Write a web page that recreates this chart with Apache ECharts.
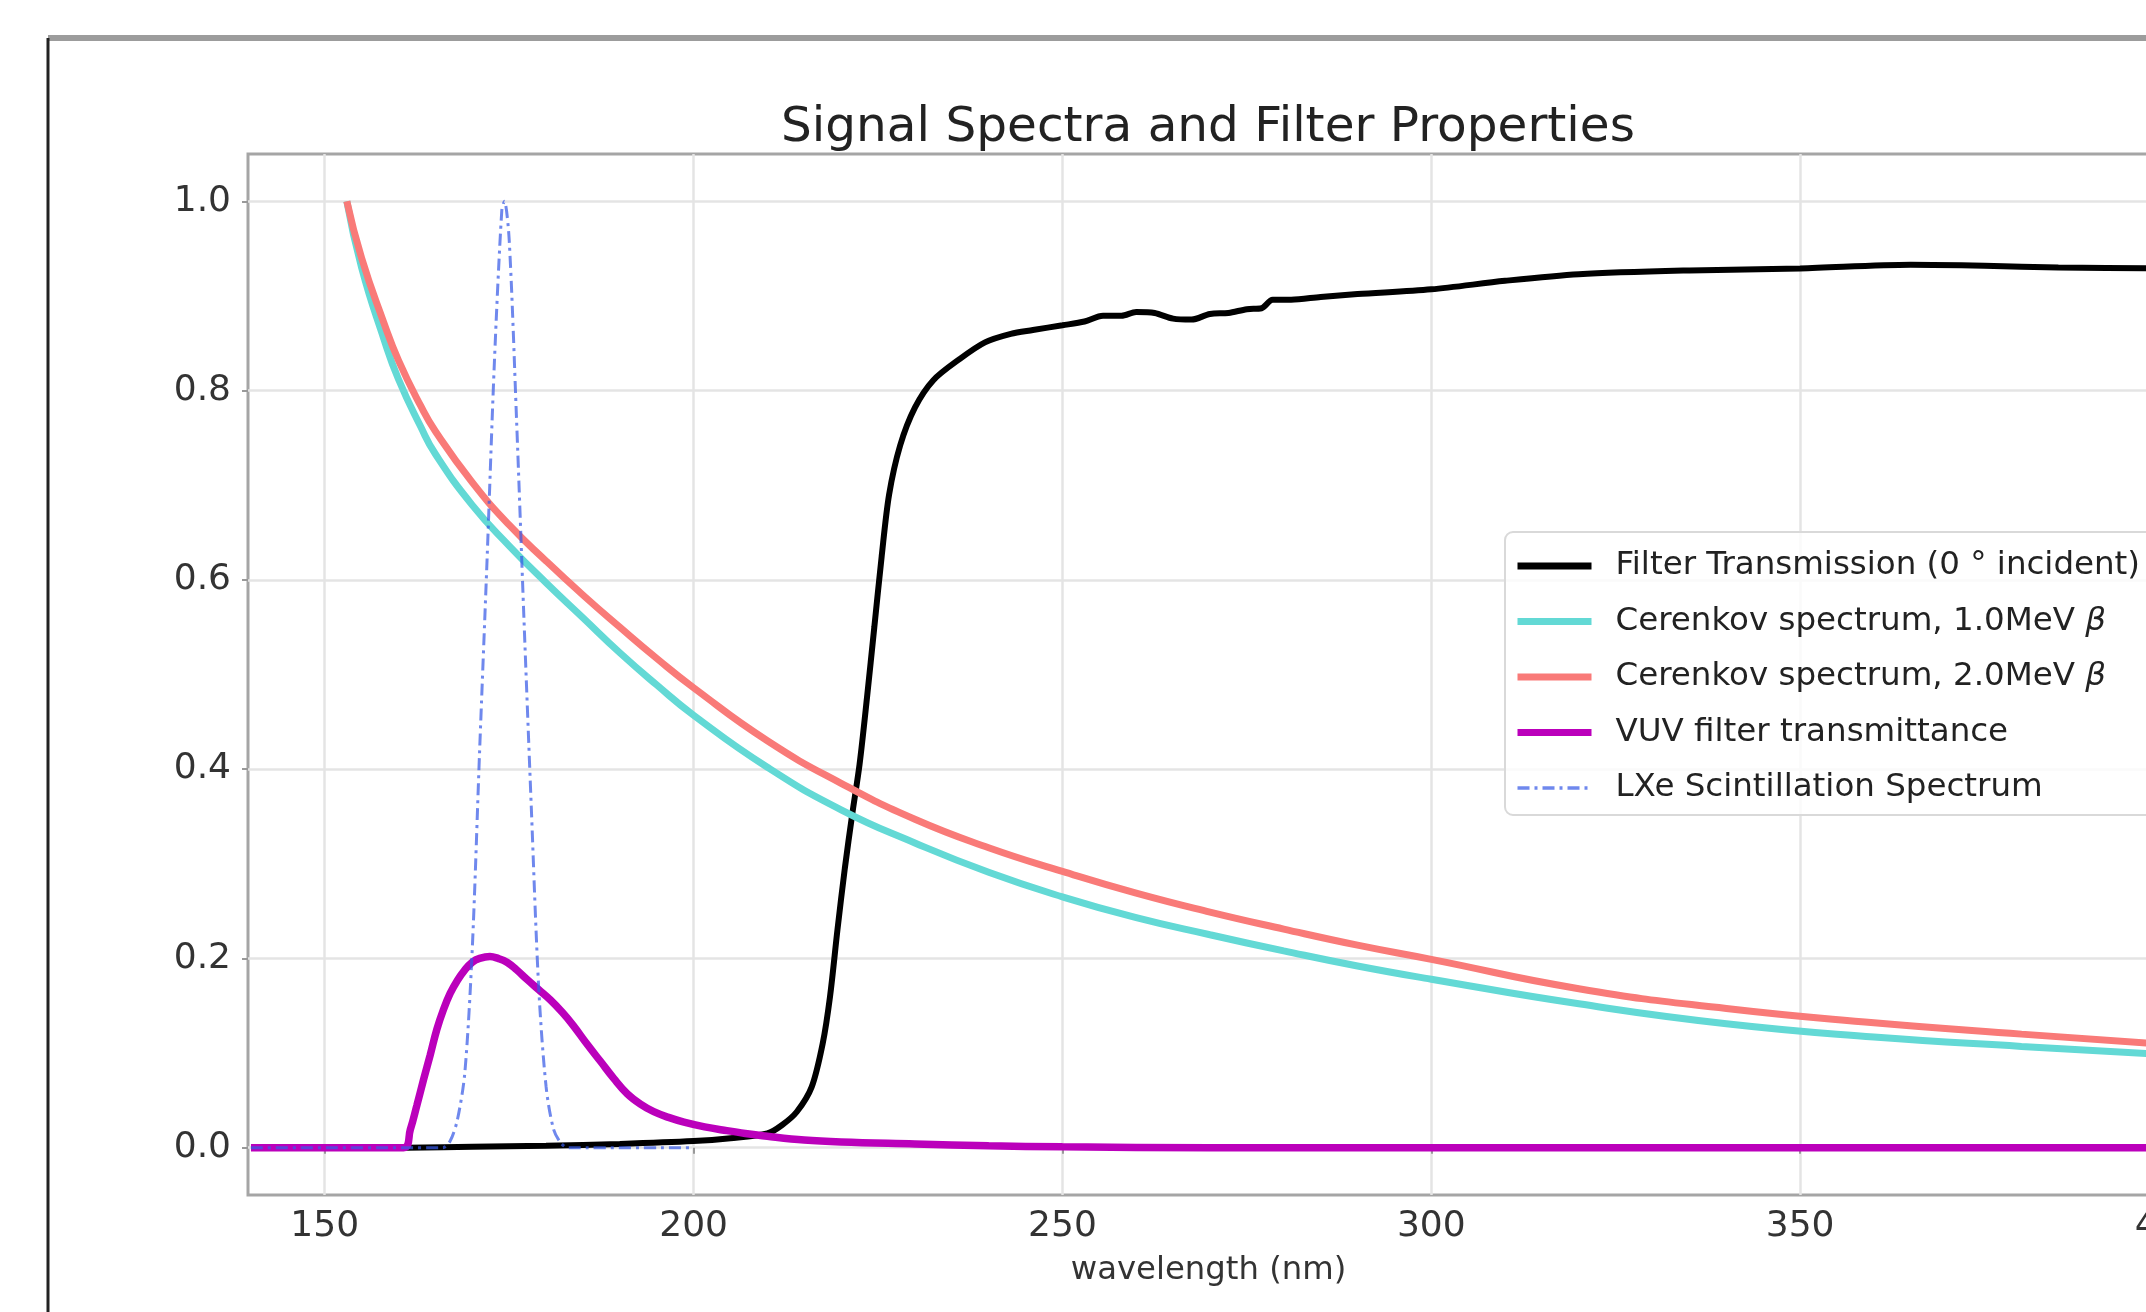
<!DOCTYPE html>
<html>
<head>
<meta charset="utf-8">
<script src="https://cdn.jsdelivr.net/npm/echarts@6/dist/echarts.min.js"></script>
<style>
  html, body { margin: 0; padding: 0; background: #fff; }
  #chart-container { width: 2146px; height: 1312px; }
</style>
</head>
<body>
<div id="chart-container"></div>
<script>
// series names, same order as the legend
var seriesNames = [
  'Filter Transmission (0 ° incident)',
  'Cerenkov spectrum, 1.0MeV β',
  'Cerenkov spectrum, 2.0MeV β',
  'VUV filter transmittance',
  'LXe Scintillation Spectrum'
];

var xTicks = [150, 200, 250, 300, 350, 400];
var yTicks = [0, 0.2, 0.4, 0.6, 0.8, 1.0];

// filter transmission (black)
var filterNm = [161, 170, 180, 190, 200, 205, 210, 212, 214, 216, 217.5, 218.5, 219.5, 220.5, 221.5,
  222.5, 223.5, 224.5, 225.5, 226.5, 228, 230, 232.5, 236, 239.5, 243, 246, 250, 253, 255.5, 258,
  260, 262.5, 265, 267.5, 270, 272.5, 275, 277, 278.5, 281, 285, 290, 300, 310, 320, 335, 350,
  365, 375, 385, 400];
var filterVal = [0.0, 0.001, 0.002, 0.004, 0.007, 0.010, 0.015, 0.024, 0.038, 0.064, 0.11, 0.16, 0.23, 0.295, 0.352,
  0.405, 0.475, 0.55, 0.625, 0.69, 0.742, 0.782, 0.811, 0.833, 0.851, 0.86, 0.864, 0.869, 0.873, 0.879, 0.879,
  0.883, 0.882, 0.876, 0.875, 0.881, 0.882, 0.886, 0.887, 0.896, 0.896, 0.899, 0.902, 0.907, 0.916, 0.923, 0.927, 0.929,
  0.933, 0.932, 0.930, 0.929];

// cerenkov spectra (cyan / salmon)
var cerenkovNm = [153, 155, 158, 160, 163, 165, 170, 175, 180, 185, 190, 195, 200, 210, 220, 230, 240,
  250, 260, 270, 280, 290, 300, 320, 340, 360, 380, 400];
var cerenkov1Val = [1.0, 0.93, 0.855, 0.812, 0.762, 0.733, 0.679, 0.636, 0.597, 0.56, 0.523, 0.489, 0.457,
  0.402, 0.357, 0.322, 0.291, 0.265, 0.243, 0.225, 0.208, 0.192, 0.178, 0.152, 0.131, 0.117, 0.107, 0.098];
var cerenkov2Val = [1.0, 0.94, 0.872, 0.832, 0.784, 0.757, 0.703, 0.658, 0.62, 0.584, 0.55, 0.517, 0.486,
  0.43, 0.385, 0.347, 0.317, 0.292, 0.269, 0.249, 0.231, 0.214, 0.199, 0.168, 0.147, 0.132, 0.12, 0.109];

// VUV filter (magenta)
var vuvNm = [140, 160.7, 161.6, 162.5, 163.4, 164.3, 165.2, 166.1, 167, 168, 169, 170, 171, 172.4, 173.5,
  174.7, 176, 177.4, 179, 180.6, 182.2, 183.7, 185.5, 187.4, 189.2, 191, 192.8, 194.6, 196.6, 198.7,
  201.5, 204.5, 207, 210, 215, 220, 230, 240, 250, 270, 400];
var vuvVal = [0, 0, 0.019, 0.045, 0.072, 0.098, 0.125, 0.146, 0.163, 0.177, 0.188, 0.196, 0.2, 0.202, 0.2,
  0.196, 0.188, 0.178, 0.167, 0.156, 0.143, 0.129, 0.11, 0.091, 0.073, 0.057, 0.046, 0.038, 0.032, 0.027,
  0.022, 0.018, 0.015, 0.012, 0.008, 0.006, 0.004, 0.002, 0.001, 0, 0];

// LXe scintillation (blue dash-dot)
var lxeNm = [140, 166, 167, 168, 169, 170, 171, 172, 173, 174, 174.35, 175, 176, 177, 178, 179, 180, 181, 182, 183, 200];
var lxeVal = [0, 0, 0.007, 0.03, 0.08, 0.21, 0.42, 0.62, 0.83, 0.99, 1.0, 0.96, 0.77, 0.56, 0.36, 0.17, 0.065, 0.02, 0.005, 0, 0];

function pairs(xs, ys) {
  return xs.map(function (x, i) { return [x, ys[i]]; });
}

var dom = document.getElementById('chart-container');
var myChart = echarts.init(dom, null, { renderer: 'canvas' });

var font = 'DejaVu Sans';
var hidden = { color: 'rgba(0,0,0,0)', borderWidth: 0 };

var option = {
  animation: false,
  backgroundColor: '#fff',
  title: {
    text: 'Signal Spectra and Filter Properties',
    left: 1208,
    top: 104,
    textAlign: 'center',
    padding: 0,
    textStyle: { fontFamily: font, fontSize: 48.5, fontWeight: 'normal', color: '#222' }
  },
  graphic: [
    { type: 'line', shape: { x1: 48, y1: 38, x2: 2146, y2: 38 }, style: { stroke: '#9c9c9c', lineWidth: 6 } },
    { type: 'line', shape: { x1: 48, y1: 38, x2: 48, y2: 1312 }, style: { stroke: '#222', lineWidth: 3 } }
  ],
  grid: {
    left: 248,
    top: 154,
    width: 1921,
    height: 1041,
    outerBoundsMode: 'none',
    containLabel: false,
    show: true,
    borderColor: '#a5a5a5',
    borderWidth: 3
  },
  legend: {
    data: [
      { name: seriesNames[0], itemStyle: hidden, lineStyle: { width: 7 } },
      { name: seriesNames[1], itemStyle: hidden, lineStyle: { width: 7 } },
      { name: seriesNames[2], itemStyle: hidden, lineStyle: { width: 7 } },
      { name: seriesNames[3], itemStyle: hidden, lineStyle: { width: 7 } },
      { name: seriesNames[4], itemStyle: hidden, lineStyle: { width: 3.5 } }
    ],
    orient: 'vertical',
    left: 1505,
    top: 532,
    itemWidth: 74,
    itemHeight: 14,
    itemGap: 19.5,
    padding: [16, 20, 9, 9],
    backgroundColor: 'rgba(255,255,255,0.8)',
    borderColor: '#d9d9d9',
    borderWidth: 2,
    borderRadius: 8,
    formatter: function (name) { return name.replace('β', '{b|β}'); },
    textStyle: {
      fontFamily: font,
      fontSize: 32.5,
      color: '#222',
      lineHeight: 36,
      padding: [0, 0, 0, 19],
      rich: { b: { fontFamily: font, fontSize: 32.5, fontStyle: 'italic', color: '#222' } }
    }
  },
  xAxis: {
    type: 'value',
    min: 139.6,
    max: 400,
    name: 'wavelength (nm)',
    nameLocation: 'middle',
    nameGap: 60,
    nameTextStyle: { fontFamily: font, fontSize: 32.3, color: '#333' },
    axisLine: { show: false },
    axisTick: { show: true, length: 6, customValues: xTicks, lineStyle: { color: '#999', width: 2 } },
    axisLabel: { fontFamily: font, fontSize: 36, color: '#333', margin: 14, customValues: xTicks },
    splitLine: { show: true, lineStyle: { color: '#e4e4e4', width: 2.5 } }
  },
  yAxis: {
    type: 'value',
    min: -0.05,
    max: 1.05,
    axisLine: { show: false },
    axisTick: { show: true, length: 6, customValues: yTicks, lineStyle: { color: '#999', width: 2 } },
    axisLabel: {
      fontFamily: font, fontSize: 36, color: '#333', margin: 17, customValues: yTicks,
      formatter: function (v) { return v.toFixed(1); }
    },
    splitLine: { show: true, lineStyle: { color: '#e4e4e4', width: 2.5 } }
  },
  series: [
    {
      name: seriesNames[0], type: 'line', symbol: 'none', data: pairs(filterNm, filterVal),
      smooth: 0.3,
      lineStyle: { color: '#000', width: 6 }, itemStyle: { color: '#000' }
    },
    {
      name: seriesNames[1], type: 'line', symbol: 'none', data: pairs(cerenkovNm, cerenkov1Val),
      smooth: 0.5,
      lineStyle: { color: '#63d9d5', width: 7 }, itemStyle: { color: '#63d9d5' }
    },
    {
      name: seriesNames[2], type: 'line', symbol: 'none', data: pairs(cerenkovNm, cerenkov2Val),
      smooth: 0.5,
      lineStyle: { color: '#f97a78', width: 7 }, itemStyle: { color: '#f97a78' }
    },
    {
      name: seriesNames[3], type: 'line', symbol: 'none', data: pairs(vuvNm, vuvVal),
      smooth: 0.4,
      lineStyle: { color: '#bb00bb', width: 7.5 }, itemStyle: { color: '#bb00bb' }
    },
    {
      name: seriesNames[4], type: 'line', symbol: 'none', data: pairs(lxeNm, lxeVal),
      smooth: 0.3,
      lineStyle: { color: 'rgba(55,90,230,0.72)', width: 3, type: [12, 5, 3, 5] },
      itemStyle: { color: 'rgba(55,90,230,0.72)' }
    }
  ]
};

if (option && typeof option === 'object') {
  myChart.setOption(option);
}

window.addEventListener('resize', myChart.resize);
</script>
</body>
</html>
